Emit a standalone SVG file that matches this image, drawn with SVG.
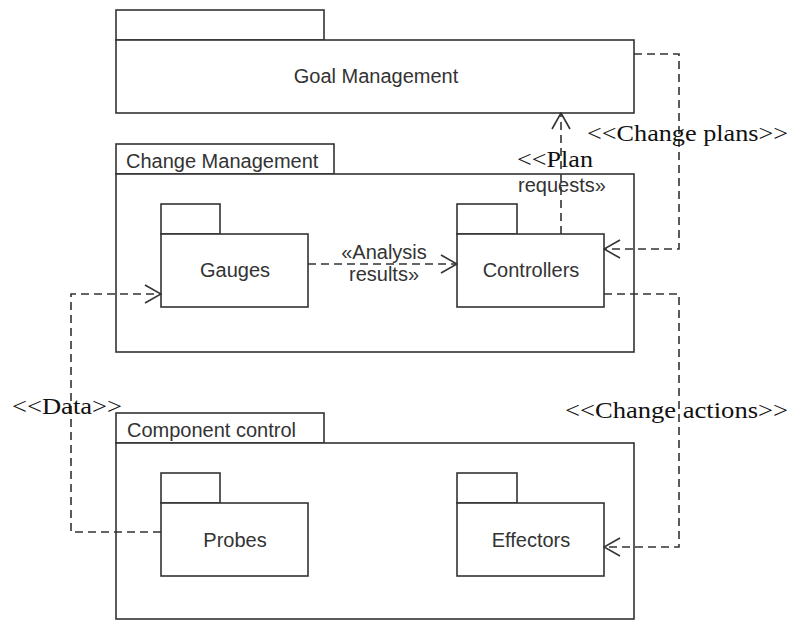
<svg xmlns="http://www.w3.org/2000/svg" width="791" height="622" viewBox="0 0 791 622">
<defs>
<style>
.pkg{fill:#fff;stroke:#333;stroke-width:1.6}
.sans{font-family:"Liberation Sans",Arial,sans-serif;font-size:20px;fill:#333}
.ctr{text-anchor:middle}
.serif{font-family:"Liberation Serif","Times New Roman",serif;font-size:24px;fill:#111}
.dep{fill:none;stroke:#333;stroke-width:1.6;stroke-dasharray:8 5}
.head{fill:none;stroke:#333;stroke-width:1.6}
</style>
<marker id="open" viewBox="0 0 18 20" refX="17" refY="10" markerWidth="18" markerHeight="20" markerUnits="userSpaceOnUse" orient="auto">
<path d="M1,1 L17,10 L1,19" class="head"/>
</marker>
</defs>
<rect width="791" height="622" fill="#fff"/>
<g id="goal-management">
<rect class="pkg" x="116" y="10" width="208" height="30"/>
<rect class="pkg" x="116" y="40" width="518" height="73"/>
<text class="sans ctr" x="376" y="83">Goal Management</text>
</g>
<g id="change-management">
<rect class="pkg" x="116" y="144" width="218" height="30"/>
<rect class="pkg" x="116" y="174" width="518" height="178"/>
<text class="sans" x="126" y="168">Change Management</text>
</g>
<g id="component-control">
<rect class="pkg" x="116" y="413" width="208" height="30"/>
<rect class="pkg" x="116" y="443" width="518" height="176"/>
<text class="sans" x="127" y="437">Component control</text>
</g>
<g id="gauges">
<rect class="pkg" x="161" y="204" width="59" height="30"/>
<rect class="pkg" x="161" y="234" width="147" height="73"/>
<text class="sans ctr" x="235" y="277">Gauges</text>
</g>
<g id="controllers">
<rect class="pkg" x="457" y="204" width="60" height="30"/>
<rect class="pkg" x="457" y="234" width="147" height="73"/>
<text class="sans ctr" x="531" y="277">Controllers</text>
</g>
<g id="probes">
<rect class="pkg" x="161" y="473" width="59" height="30"/>
<rect class="pkg" x="161" y="503" width="147" height="73"/>
<text class="sans ctr" x="235" y="547">Probes</text>
</g>
<g id="effectors">
<rect class="pkg" x="457" y="473" width="60" height="30"/>
<rect class="pkg" x="457" y="503" width="147" height="73"/>
<text class="sans ctr" x="531" y="547">Effectors</text>
</g>
<g id="connectors">
<path class="dep" d="M308,264 L457,264" marker-end="url(#open)"/>
<path class="dep" d="M561,234 L561,113" marker-end="url(#open)"/>
<path class="dep" d="M634,54 L679,54 L679,249 L604,249" marker-end="url(#open)"/>
<path class="dep" d="M604,294 L679,294 L679,547 L604,547" marker-end="url(#open)"/>
<path class="dep" d="M161,532 L71,532 L71,294 L161,294" marker-end="url(#open)"/>
<text class="sans ctr" x="384" y="259">«Analysis</text>
<text class="sans ctr" x="384" y="281">results»</text>
<text class="serif" x="517" y="167" textLength="76" lengthAdjust="spacingAndGlyphs">&lt;&lt;Plan</text>
<text class="sans" x="518" y="192">requests»</text>
<text class="serif" x="587" y="141" textLength="201" lengthAdjust="spacingAndGlyphs">&lt;&lt;Change plans&gt;&gt;</text>
<text class="serif" x="565" y="418" textLength="223" lengthAdjust="spacingAndGlyphs">&lt;&lt;Change actions&gt;&gt;</text>
<text class="serif" x="12" y="414" textLength="110" lengthAdjust="spacingAndGlyphs">&lt;&lt;Data&gt;&gt;</text>
</g>
</svg>
